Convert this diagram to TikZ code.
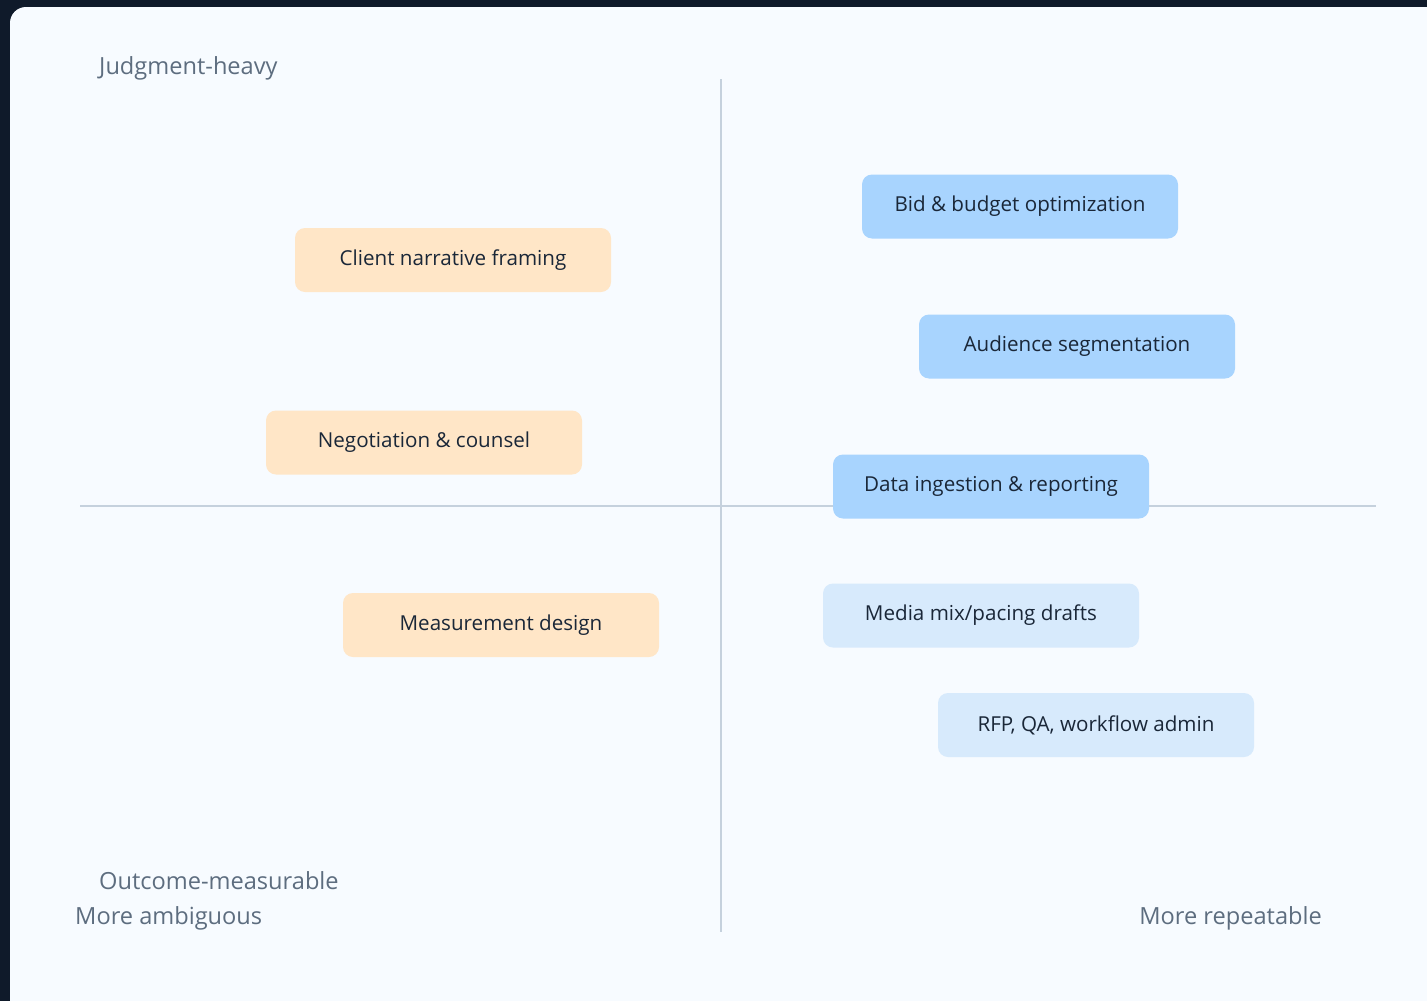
\documentclass[tikz,border=0pt]{standalone}
\usepackage{fontspec}
\setmainfont{Open Sans}
\definecolor{bgdark}{HTML}{0F1A2A}
\definecolor{panel}{HTML}{F7FBFF}
\definecolor{axis}{HTML}{C5D1DD}
\definecolor{peach}{HTML}{FFE6C7}
\definecolor{bluehi}{HTML}{A8D4FE}
\definecolor{bluelo}{HTML}{D7EAFC}
\definecolor{ink}{HTML}{1A2738}
\definecolor{muted}{HTML}{5D6D7F}
\begin{document}
\begin{tikzpicture}[x=1pt,y=-1pt,
  card/.style={rounded corners=10pt,minimum width=316pt,minimum height=64pt,inner sep=0pt,
    text=ink,font=\fontsize{20.6}{24}\selectfont},
  warm/.style={card,fill=peach},
  hot/.style={card,fill=bluehi},
  cool/.style={card,fill=bluelo},
  axislbl/.style={text=muted,font=\fontsize{23.6}{28}\selectfont,inner sep=0pt},
  axisline/.style={draw=axis,line width=2.8pt}]
\fill[bgdark] (0,0) rectangle (1427,1001);
\useasboundingbox (0,0) rectangle (1427,1001);
\fill[panel,rounded corners=16pt] (10,7) rectangle (1460,1040);
% axes
\coordinate (vt) at (721,79);
\coordinate (vb) at (721,932);
\coordinate (hl) at (80,506);
\coordinate (hr) at (1376,506);
\draw[axisline] (vt) -- (vb);
\draw[axisline] (hl) -- (hr);
% cards
\node[warm] (cnf) at (453,260) {Client narrative framing};
\node[warm] (neg) at (424,442.5) {Negotiation \& counsel};
\node[warm] (mes) at (501,625) {Measurement design};
\node[hot] (bid) at (1020,206.5) {Bid \& budget optimization};
\node[hot] (aud) at (1077,346.5) {Audience segmentation};
\node[hot] (dat) at (991,486.5) {Data ingestion \& reporting};
\node[cool] (med) at (981,615.5) {Media mix/pacing drafts};
\node[cool] (rfp) at (1096,725) {RFP, QA, workflow admin};
% axis labels
\node[axislbl,anchor=west] (jh) at (99,68) {Judgment-heavy};
\node[axislbl,anchor=west] (om) at (99,881) {Outcome-measurable};
\node[axislbl,anchor=west] (ma) at (75,918) {More ambiguous};
\node[axislbl,anchor=east] (mr) at (1322,918) {More repeatable};
\end{tikzpicture}
\end{document}
